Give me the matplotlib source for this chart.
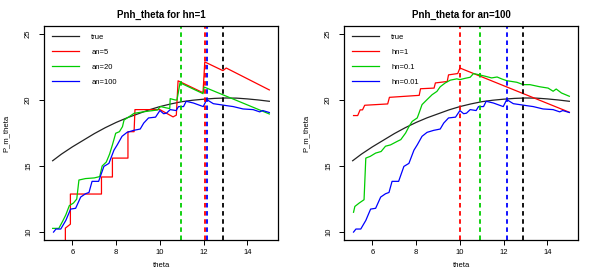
import matplotlib
matplotlib.use("Agg")
from matplotlib import pyplot as plt

plt.rcParams['font.family'] = ['Liberation Sans', 'DejaVu Sans']

# ----------------- Data -----------------
true_theta = [5.1, 5.5, 6.0, 6.5, 7.0, 7.5, 8.0, 8.5, 9.0, 9.5, 10.0,
              10.5, 11.0, 11.5, 12.0, 12.5, 13.0, 13.5, 14.0, 14.5, 15.0]
true_vals = [15.4, 15.9, 16.45, 16.95, 17.45, 17.9, 18.3, 18.65, 18.95, 19.25, 19.5,
             19.7, 19.87, 19.98, 20.06, 20.12, 20.15, 20.14, 20.08, 20.0, 19.9]

# left panel, hn=1
an5_theta = [5.68, 5.68, 5.91, 5.91, 7.33, 7.33, 7.83, 7.83, 8.54, 8.54, 8.82, 8.86,
             10.0, 10.6, 10.75, 10.83, 11.97, 12.05, 12.88, 13.03, 15.0]
an5_vals = [9.0, 10.3, 10.6, 12.88, 12.88, 14.17, 14.17, 15.6, 15.6, 17.6, 17.6, 19.27,
            19.27, 18.72, 18.85, 21.45, 20.55, 22.88, 22.22, 22.42, 20.76]

an20_theta = [5.1, 5.38, 5.55, 5.7, 5.86, 6.05, 6.2, 6.3, 6.6, 7.0, 7.25, 7.36, 7.55,
              7.7, 7.83, 7.98, 8.15, 8.29, 8.36, 8.59, 8.82, 9.27, 9.88, 10.03, 10.3,
              10.45, 10.47, 10.7, 10.78, 10.92, 11.97, 12.02, 15.0]
an20_vals = [10.28, 10.28, 10.8, 11.3, 12.0, 12.2, 12.5, 13.94, 14.05, 14.1, 14.2, 15.0, 15.3,
             15.9, 16.6, 17.48, 17.6, 17.98, 18.48, 18.73, 18.99, 19.11, 19.24, 19.5, 19.4,
             19.35, 20.1, 20.0, 20.0, 21.3, 20.48, 20.98, 18.94]

# an=100 with hn=1 (left) is the same curve as hn=0.01 (right)
blue_theta = [5.14, 5.25, 5.47, 5.7, 5.92, 6.15, 6.38, 6.6, 6.76, 6.9, 7.2, 7.44, 7.67,
              7.9, 8.05, 8.27, 8.5, 8.8, 9.1, 9.26, 9.48, 9.8, 10.0, 10.17, 10.3, 10.47,
              10.74, 10.85, 11.08, 11.2, 11.53, 11.98, 12.14, 12.44, 13.05, 13.35, 13.8,
              14.26, 14.56, 14.7, 15.0]
blue_vals = [10.0, 10.23, 10.23, 10.88, 11.74, 11.8, 12.65, 12.9, 13.0, 13.84, 13.84, 14.97,
             15.2, 16.2, 16.6, 17.25, 17.55, 17.7, 17.8, 18.25, 18.64, 18.7, 19.2, 18.96,
             19.0, 19.27, 19.2, 19.5, 19.5, 19.9, 19.77, 19.5, 20.03, 19.72, 19.57, 19.5,
             19.32, 19.27, 19.1, 19.2, 19.05]

# right panel, an=100
hn1_theta = [5.14, 5.33, 5.44, 5.55, 5.65, 6.7, 6.78, 8.14, 8.2, 8.82, 8.88, 9.42, 9.48,
             9.9, 10.0, 15.0]
hn1_vals = [18.82, 18.82, 19.25, 19.25, 19.6, 19.7, 20.2, 20.35, 20.85, 20.9, 21.29, 21.4,
            21.9, 22.0, 22.42, 19.07]

hn01_theta = [5.14, 5.2, 5.4, 5.62, 5.7, 5.9, 6.15, 6.4, 6.6, 6.83, 7.14, 7.3, 7.52, 7.67,
              7.82, 8.05, 8.12, 8.27, 8.5, 8.73, 8.95, 9.1, 9.33, 9.56, 9.86, 10.0, 10.24,
              10.47, 10.62, 10.85, 11.15, 11.45, 11.7, 11.9, 12.14, 12.6, 12.9, 13.2, 13.65,
              14.03, 14.26, 14.4, 14.64, 15.0]
hn01_vals = [11.5, 11.94, 12.2, 12.45, 15.6, 15.73, 15.98, 16.1, 16.5, 16.6, 16.87, 17.0,
             17.5, 17.98, 18.38, 18.64, 18.95, 19.65, 20.03, 20.4, 20.65, 21.0, 21.29, 21.5,
             21.6, 21.54, 21.64, 21.72, 22.0, 21.92, 21.8, 21.67, 21.74, 21.6, 21.46, 21.34,
             21.16, 21.16, 21.0, 20.9, 20.66, 20.83, 20.53, 20.28]

# vertical markers (argmax of each curve)
left_vlines = [(10.97, 'green'), (12.06, 'red'), (12.15, 'blue'), (12.88, 'black')]
right_vlines = [(10.0, 'red'), (10.9, 'green'), (12.15, 'blue'), (12.87, 'black')]

RED = '#FF0000'
GREEN = '#00CD00'
BLUE = '#0000FF'
BLACK = '#000000'
cmap = {'red': RED, 'green': GREEN, 'blue': BLUE, 'black': BLACK}


def style_axes(ax, title):
    ax.set_xlim(4.704, 15.396)
    ax.set_ylim(9.4, 25.6)
    ax.set_xticks([6, 8, 10, 12, 14])
    ax.set_yticks([10, 15, 20, 25])
    ax.tick_params(direction='out', length=3.6, width=0.7, labelsize=5.5)
    ax.tick_params(axis='x', pad=3)
    ax.tick_params(axis='y', labelrotation=90, pad=5)
    for lab in ax.get_yticklabels():
        lab.set_va('center')
    for sp in ax.spines.values():
        sp.set_linewidth(0.9)
    ax.set_title(title, fontsize=7, fontweight='bold', pad=6)
    ax.set_xlabel('theta', fontsize=5.5, labelpad=4)
    ax.set_ylabel('P_m_theta', fontsize=5.5, labelpad=11)


fig = plt.figure(figsize=(5.99, 2.73), dpi=100)
ax1 = fig.add_axes([44 / 599, 33 / 273, 234 / 599, 214 / 273])
ax2 = fig.add_axes([344 / 599, 33 / 273, 234 / 599, 214 / 273])

lw = 0.9
ax1.plot(true_theta, true_vals, color='#222222', lw=lw, label='true')
ax1.plot(an5_theta, an5_vals, color=RED, lw=lw, label='an=5')
ax1.plot(an20_theta, an20_vals, color=GREEN, lw=lw, label='an=20')
ax1.plot(blue_theta, blue_vals, color=BLUE, lw=lw, label='an=100')
for x, c in left_vlines:
    ax1.axvline(x, color=cmap[c], lw=1.3, linestyle=(0, (2.5, 2)))

ax2.plot(true_theta, true_vals, color='#222222', lw=lw, label='true')
ax2.plot(hn1_theta, hn1_vals, color=RED, lw=lw, label='hn=1')
ax2.plot(hn01_theta, hn01_vals, color=GREEN, lw=lw, label='hn=0.1')
ax2.plot(blue_theta, blue_vals, color=BLUE, lw=lw, label='hn=0.01')
for x, c in right_vlines:
    ax2.axvline(x, color=cmap[c], lw=1.3, linestyle=(0, (2.5, 2)))

style_axes(ax1, 'Pnh_theta for hn=1')
style_axes(ax2, 'Pnh_theta for an=100')

for ax in (ax1, ax2):
    ax.legend(loc='upper left', bbox_to_anchor=(0.035, 0.965), frameon=False,
              fontsize=5.5, handlelength=3.5, handletextpad=1.6, labelspacing=1.0,
              borderaxespad=0, borderpad=0)

fig.savefig('out.png', dpi=100)
